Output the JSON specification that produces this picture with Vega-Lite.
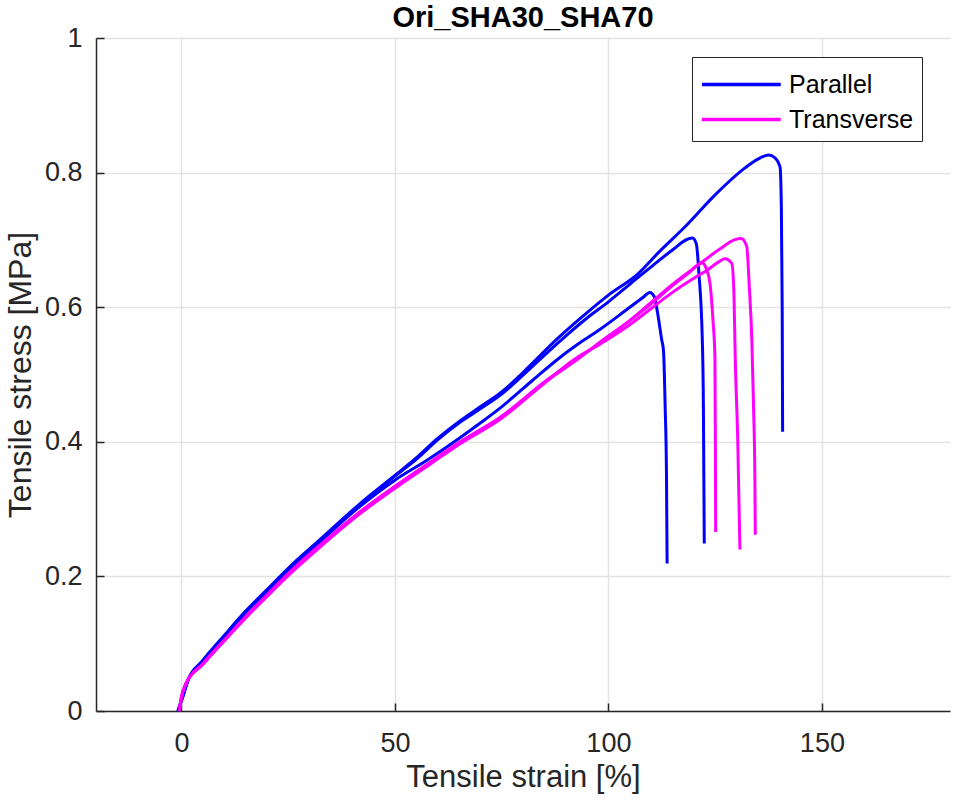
{
  "$schema": "https://vega.github.io/schema/vega-lite/v6.json",
  "description": "Tensile stress-strain curves, parallel vs transverse specimens.",
  "width": 854,
  "height": 673,
  "autosize": {"type": "none"},
  "padding": {"left": 96, "top": 38, "right": 6, "bottom": 94},
  "background": "white",
  "config": {"font": "Liberation Sans", "view": {"stroke": null}},
  "title": {"text": "Ori_SHA30_SHA70", "fontSize": 29, "fontWeight": "bold", "color": "#000000", "anchor": "middle", "frame": "group", "offset": -9},
  "data": {
    "values": [
      {"series": "Parallel", "sample": "P1", "i": 0, "strain": -0.8, "stress": 0},
      {"series": "Parallel", "sample": "P1", "i": 1, "strain": 0.5, "stress": 0.025},
      {"series": "Parallel", "sample": "P1", "i": 2, "strain": 1.5, "stress": 0.045},
      {"series": "Parallel", "sample": "P1", "i": 3, "strain": 5, "stress": 0.075},
      {"series": "Parallel", "sample": "P1", "i": 4, "strain": 10, "stress": 0.112},
      {"series": "Parallel", "sample": "P1", "i": 5, "strain": 15, "stress": 0.148},
      {"series": "Parallel", "sample": "P1", "i": 6, "strain": 20, "stress": 0.18},
      {"series": "Parallel", "sample": "P1", "i": 7, "strain": 26, "stress": 0.218},
      {"series": "Parallel", "sample": "P1", "i": 8, "strain": 32, "stress": 0.252},
      {"series": "Parallel", "sample": "P1", "i": 9, "strain": 42, "stress": 0.309},
      {"series": "Parallel", "sample": "P1", "i": 10, "strain": 50, "stress": 0.35},
      {"series": "Parallel", "sample": "P1", "i": 11, "strain": 55, "stress": 0.376},
      {"series": "Parallel", "sample": "P1", "i": 12, "strain": 60, "stress": 0.405},
      {"series": "Parallel", "sample": "P1", "i": 13, "strain": 65, "stress": 0.43},
      {"series": "Parallel", "sample": "P1", "i": 14, "strain": 70, "stress": 0.452},
      {"series": "Parallel", "sample": "P1", "i": 15, "strain": 75, "stress": 0.474},
      {"series": "Parallel", "sample": "P1", "i": 16, "strain": 80, "stress": 0.503},
      {"series": "Parallel", "sample": "P1", "i": 17, "strain": 88, "stress": 0.553},
      {"series": "Parallel", "sample": "P1", "i": 18, "strain": 95, "stress": 0.592},
      {"series": "Parallel", "sample": "P1", "i": 19, "strain": 100, "stress": 0.618},
      {"series": "Parallel", "sample": "P1", "i": 20, "strain": 107, "stress": 0.65},
      {"series": "Parallel", "sample": "P1", "i": 21, "strain": 112, "stress": 0.683},
      {"series": "Parallel", "sample": "P1", "i": 22, "strain": 118, "stress": 0.72},
      {"series": "Parallel", "sample": "P1", "i": 23, "strain": 125, "stress": 0.767},
      {"series": "Parallel", "sample": "P1", "i": 24, "strain": 132, "stress": 0.807},
      {"series": "Parallel", "sample": "P1", "i": 25, "strain": 135, "stress": 0.82},
      {"series": "Parallel", "sample": "P1", "i": 26, "strain": 137.5, "stress": 0.826},
      {"series": "Parallel", "sample": "P1", "i": 27, "strain": 139, "stress": 0.822},
      {"series": "Parallel", "sample": "P1", "i": 28, "strain": 140.2, "stress": 0.808},
      {"series": "Parallel", "sample": "P1", "i": 29, "strain": 140.5, "stress": 0.75},
      {"series": "Parallel", "sample": "P1", "i": 30, "strain": 140.7, "stress": 0.6},
      {"series": "Parallel", "sample": "P1", "i": 31, "strain": 140.8, "stress": 0.415},

      {"series": "Parallel", "sample": "P2", "i": 0, "strain": -0.8, "stress": 0},
      {"series": "Parallel", "sample": "P2", "i": 1, "strain": 0.5, "stress": 0.025},
      {"series": "Parallel", "sample": "P2", "i": 2, "strain": 1.5, "stress": 0.045},
      {"series": "Parallel", "sample": "P2", "i": 3, "strain": 5, "stress": 0.074},
      {"series": "Parallel", "sample": "P2", "i": 4, "strain": 10, "stress": 0.111},
      {"series": "Parallel", "sample": "P2", "i": 5, "strain": 15, "stress": 0.147},
      {"series": "Parallel", "sample": "P2", "i": 6, "strain": 20, "stress": 0.179},
      {"series": "Parallel", "sample": "P2", "i": 7, "strain": 26, "stress": 0.217},
      {"series": "Parallel", "sample": "P2", "i": 8, "strain": 32, "stress": 0.251},
      {"series": "Parallel", "sample": "P2", "i": 9, "strain": 42, "stress": 0.308},
      {"series": "Parallel", "sample": "P2", "i": 10, "strain": 50, "stress": 0.349},
      {"series": "Parallel", "sample": "P2", "i": 11, "strain": 55, "stress": 0.374},
      {"series": "Parallel", "sample": "P2", "i": 12, "strain": 60, "stress": 0.403},
      {"series": "Parallel", "sample": "P2", "i": 13, "strain": 65, "stress": 0.428},
      {"series": "Parallel", "sample": "P2", "i": 14, "strain": 70, "stress": 0.449},
      {"series": "Parallel", "sample": "P2", "i": 15, "strain": 75, "stress": 0.471},
      {"series": "Parallel", "sample": "P2", "i": 16, "strain": 80, "stress": 0.499},
      {"series": "Parallel", "sample": "P2", "i": 17, "strain": 88, "stress": 0.546},
      {"series": "Parallel", "sample": "P2", "i": 18, "strain": 95, "stress": 0.584},
      {"series": "Parallel", "sample": "P2", "i": 19, "strain": 100, "stress": 0.608},
      {"series": "Parallel", "sample": "P2", "i": 20, "strain": 105, "stress": 0.634},
      {"series": "Parallel", "sample": "P2", "i": 21, "strain": 110, "stress": 0.66},
      {"series": "Parallel", "sample": "P2", "i": 22, "strain": 115, "stress": 0.685},
      {"series": "Parallel", "sample": "P2", "i": 23, "strain": 118.5, "stress": 0.701},
      {"series": "Parallel", "sample": "P2", "i": 24, "strain": 119.7, "stress": 0.703},
      {"series": "Parallel", "sample": "P2", "i": 25, "strain": 120.6, "stress": 0.694},
      {"series": "Parallel", "sample": "P2", "i": 26, "strain": 121.2, "stress": 0.65},
      {"series": "Parallel", "sample": "P2", "i": 27, "strain": 122, "stress": 0.55},
      {"series": "Parallel", "sample": "P2", "i": 28, "strain": 122.25, "stress": 0.45},
      {"series": "Parallel", "sample": "P2", "i": 29, "strain": 122.35, "stress": 0.35},
      {"series": "Parallel", "sample": "P2", "i": 30, "strain": 122.45, "stress": 0.249},

      {"series": "Parallel", "sample": "P3", "i": 0, "strain": -0.8, "stress": 0},
      {"series": "Parallel", "sample": "P3", "i": 1, "strain": 0.5, "stress": 0.025},
      {"series": "Parallel", "sample": "P3", "i": 2, "strain": 1.5, "stress": 0.045},
      {"series": "Parallel", "sample": "P3", "i": 3, "strain": 5, "stress": 0.074},
      {"series": "Parallel", "sample": "P3", "i": 4, "strain": 10, "stress": 0.11},
      {"series": "Parallel", "sample": "P3", "i": 5, "strain": 15, "stress": 0.146},
      {"series": "Parallel", "sample": "P3", "i": 6, "strain": 20, "stress": 0.177},
      {"series": "Parallel", "sample": "P3", "i": 7, "strain": 26, "stress": 0.215},
      {"series": "Parallel", "sample": "P3", "i": 8, "strain": 32, "stress": 0.249},
      {"series": "Parallel", "sample": "P3", "i": 9, "strain": 42, "stress": 0.305},
      {"series": "Parallel", "sample": "P3", "i": 10, "strain": 50, "stress": 0.343},
      {"series": "Parallel", "sample": "P3", "i": 11, "strain": 57.6, "stress": 0.373},
      {"series": "Parallel", "sample": "P3", "i": 12, "strain": 65, "stress": 0.405},
      {"series": "Parallel", "sample": "P3", "i": 13, "strain": 70, "stress": 0.428},
      {"series": "Parallel", "sample": "P3", "i": 14, "strain": 75, "stress": 0.452},
      {"series": "Parallel", "sample": "P3", "i": 15, "strain": 82, "stress": 0.49},
      {"series": "Parallel", "sample": "P3", "i": 16, "strain": 88.8, "stress": 0.526},
      {"series": "Parallel", "sample": "P3", "i": 17, "strain": 94, "stress": 0.55},
      {"series": "Parallel", "sample": "P3", "i": 18, "strain": 98, "stress": 0.567},
      {"series": "Parallel", "sample": "P3", "i": 19, "strain": 104, "stress": 0.595},
      {"series": "Parallel", "sample": "P3", "i": 20, "strain": 108, "stress": 0.614},
      {"series": "Parallel", "sample": "P3", "i": 21, "strain": 109.7, "stress": 0.622},
      {"series": "Parallel", "sample": "P3", "i": 22, "strain": 110.8, "stress": 0.615},
      {"series": "Parallel", "sample": "P3", "i": 23, "strain": 111.4, "stress": 0.596},
      {"series": "Parallel", "sample": "P3", "i": 24, "strain": 112.5, "stress": 0.551},
      {"series": "Parallel", "sample": "P3", "i": 25, "strain": 112.9, "stress": 0.536},
      {"series": "Parallel", "sample": "P3", "i": 26, "strain": 113.3, "stress": 0.45},
      {"series": "Parallel", "sample": "P3", "i": 27, "strain": 113.6, "stress": 0.353},
      {"series": "Parallel", "sample": "P3", "i": 28, "strain": 113.75, "stress": 0.219},

      {"series": "Transverse", "sample": "T1", "i": 0, "strain": -0.5, "stress": 0},
      {"series": "Transverse", "sample": "T1", "i": 1, "strain": 0, "stress": 0.02},
      {"series": "Transverse", "sample": "T1", "i": 2, "strain": 1, "stress": 0.04},
      {"series": "Transverse", "sample": "T1", "i": 3, "strain": 5, "stress": 0.07},
      {"series": "Transverse", "sample": "T1", "i": 4, "strain": 10, "stress": 0.105},
      {"series": "Transverse", "sample": "T1", "i": 5, "strain": 15, "stress": 0.139},
      {"series": "Transverse", "sample": "T1", "i": 6, "strain": 20, "stress": 0.171},
      {"series": "Transverse", "sample": "T1", "i": 7, "strain": 26, "stress": 0.209},
      {"series": "Transverse", "sample": "T1", "i": 8, "strain": 32, "stress": 0.243},
      {"series": "Transverse", "sample": "T1", "i": 9, "strain": 42, "stress": 0.296},
      {"series": "Transverse", "sample": "T1", "i": 10, "strain": 50, "stress": 0.333},
      {"series": "Transverse", "sample": "T1", "i": 11, "strain": 59, "stress": 0.372},
      {"series": "Transverse", "sample": "T1", "i": 12, "strain": 65, "stress": 0.398},
      {"series": "Transverse", "sample": "T1", "i": 13, "strain": 75, "stress": 0.437},
      {"series": "Transverse", "sample": "T1", "i": 14, "strain": 85, "stress": 0.488},
      {"series": "Transverse", "sample": "T1", "i": 15, "strain": 93.5, "stress": 0.526},
      {"series": "Transverse", "sample": "T1", "i": 16, "strain": 98, "stress": 0.548},
      {"series": "Transverse", "sample": "T1", "i": 17, "strain": 105, "stress": 0.58},
      {"series": "Transverse", "sample": "T1", "i": 18, "strain": 110, "stress": 0.607},
      {"series": "Transverse", "sample": "T1", "i": 19, "strain": 115, "stress": 0.634},
      {"series": "Transverse", "sample": "T1", "i": 20, "strain": 121.5, "stress": 0.665},
      {"series": "Transverse", "sample": "T1", "i": 21, "strain": 126, "stress": 0.686},
      {"series": "Transverse", "sample": "T1", "i": 22, "strain": 129.5, "stress": 0.7},
      {"series": "Transverse", "sample": "T1", "i": 23, "strain": 131.1, "stress": 0.702},
      {"series": "Transverse", "sample": "T1", "i": 24, "strain": 132.4, "stress": 0.69},
      {"series": "Transverse", "sample": "T1", "i": 25, "strain": 133, "stress": 0.63},
      {"series": "Transverse", "sample": "T1", "i": 26, "strain": 133.6, "stress": 0.55},
      {"series": "Transverse", "sample": "T1", "i": 27, "strain": 134, "stress": 0.45},
      {"series": "Transverse", "sample": "T1", "i": 28, "strain": 134.3, "stress": 0.35},
      {"series": "Transverse", "sample": "T1", "i": 29, "strain": 134.4, "stress": 0.262},

      {"series": "Transverse", "sample": "T2", "i": 0, "strain": -0.5, "stress": 0},
      {"series": "Transverse", "sample": "T2", "i": 1, "strain": 0, "stress": 0.02},
      {"series": "Transverse", "sample": "T2", "i": 2, "strain": 1, "stress": 0.04},
      {"series": "Transverse", "sample": "T2", "i": 3, "strain": 5, "stress": 0.069},
      {"series": "Transverse", "sample": "T2", "i": 4, "strain": 10, "stress": 0.104},
      {"series": "Transverse", "sample": "T2", "i": 5, "strain": 15, "stress": 0.138},
      {"series": "Transverse", "sample": "T2", "i": 6, "strain": 20, "stress": 0.17},
      {"series": "Transverse", "sample": "T2", "i": 7, "strain": 26, "stress": 0.207},
      {"series": "Transverse", "sample": "T2", "i": 8, "strain": 32, "stress": 0.241},
      {"series": "Transverse", "sample": "T2", "i": 9, "strain": 42, "stress": 0.294},
      {"series": "Transverse", "sample": "T2", "i": 10, "strain": 50, "stress": 0.331},
      {"series": "Transverse", "sample": "T2", "i": 11, "strain": 59, "stress": 0.37},
      {"series": "Transverse", "sample": "T2", "i": 12, "strain": 65, "stress": 0.396},
      {"series": "Transverse", "sample": "T2", "i": 13, "strain": 75, "stress": 0.435},
      {"series": "Transverse", "sample": "T2", "i": 14, "strain": 85, "stress": 0.487},
      {"series": "Transverse", "sample": "T2", "i": 15, "strain": 91.9, "stress": 0.522},
      {"series": "Transverse", "sample": "T2", "i": 16, "strain": 98, "stress": 0.545},
      {"series": "Transverse", "sample": "T2", "i": 17, "strain": 105, "stress": 0.574},
      {"series": "Transverse", "sample": "T2", "i": 18, "strain": 110, "stress": 0.598},
      {"series": "Transverse", "sample": "T2", "i": 19, "strain": 115, "stress": 0.622},
      {"series": "Transverse", "sample": "T2", "i": 20, "strain": 120, "stress": 0.643},
      {"series": "Transverse", "sample": "T2", "i": 21, "strain": 123.1, "stress": 0.655},
      {"series": "Transverse", "sample": "T2", "i": 22, "strain": 126, "stress": 0.668},
      {"series": "Transverse", "sample": "T2", "i": 23, "strain": 127.3, "stress": 0.672},
      {"series": "Transverse", "sample": "T2", "i": 24, "strain": 128.9, "stress": 0.665},
      {"series": "Transverse", "sample": "T2", "i": 25, "strain": 129.4, "stress": 0.62},
      {"series": "Transverse", "sample": "T2", "i": 26, "strain": 129.7, "stress": 0.526},
      {"series": "Transverse", "sample": "T2", "i": 27, "strain": 130.3, "stress": 0.4},
      {"series": "Transverse", "sample": "T2", "i": 28, "strain": 130.8, "stress": 0.24},

      {"series": "Transverse", "sample": "T3", "i": 0, "strain": -0.5, "stress": 0},
      {"series": "Transverse", "sample": "T3", "i": 1, "strain": 0, "stress": 0.02},
      {"series": "Transverse", "sample": "T3", "i": 2, "strain": 1, "stress": 0.04},
      {"series": "Transverse", "sample": "T3", "i": 3, "strain": 5, "stress": 0.07},
      {"series": "Transverse", "sample": "T3", "i": 4, "strain": 10, "stress": 0.105},
      {"series": "Transverse", "sample": "T3", "i": 5, "strain": 15, "stress": 0.14},
      {"series": "Transverse", "sample": "T3", "i": 6, "strain": 20, "stress": 0.172},
      {"series": "Transverse", "sample": "T3", "i": 7, "strain": 26, "stress": 0.21},
      {"series": "Transverse", "sample": "T3", "i": 8, "strain": 32, "stress": 0.244},
      {"series": "Transverse", "sample": "T3", "i": 9, "strain": 42, "stress": 0.297},
      {"series": "Transverse", "sample": "T3", "i": 10, "strain": 50, "stress": 0.334},
      {"series": "Transverse", "sample": "T3", "i": 11, "strain": 59, "stress": 0.373},
      {"series": "Transverse", "sample": "T3", "i": 12, "strain": 65, "stress": 0.399},
      {"series": "Transverse", "sample": "T3", "i": 13, "strain": 75, "stress": 0.438},
      {"series": "Transverse", "sample": "T3", "i": 14, "strain": 85, "stress": 0.489},
      {"series": "Transverse", "sample": "T3", "i": 15, "strain": 93, "stress": 0.525},
      {"series": "Transverse", "sample": "T3", "i": 16, "strain": 98, "stress": 0.547},
      {"series": "Transverse", "sample": "T3", "i": 17, "strain": 105, "stress": 0.58},
      {"series": "Transverse", "sample": "T3", "i": 18, "strain": 110, "stress": 0.605},
      {"series": "Transverse", "sample": "T3", "i": 19, "strain": 115, "stress": 0.632},
      {"series": "Transverse", "sample": "T3", "i": 20, "strain": 119, "stress": 0.652},
      {"series": "Transverse", "sample": "T3", "i": 21, "strain": 121.9, "stress": 0.666},
      {"series": "Transverse", "sample": "T3", "i": 22, "strain": 123, "stress": 0.656},
      {"series": "Transverse", "sample": "T3", "i": 23, "strain": 123.8, "stress": 0.635},
      {"series": "Transverse", "sample": "T3", "i": 24, "strain": 124.5, "stress": 0.58},
      {"series": "Transverse", "sample": "T3", "i": 25, "strain": 124.95, "stress": 0.526},
      {"series": "Transverse", "sample": "T3", "i": 26, "strain": 125.05, "stress": 0.4},
      {"series": "Transverse", "sample": "T3", "i": 27, "strain": 125.12, "stress": 0.266}
    ]
  },
  "mark": {"type": "line", "strokeWidth": 3, "strokeJoin": "round", "strokeCap": "butt", "interpolate": "monotone"},
  "encoding": {
    "x": {
      "field": "strain",
      "type": "quantitative",
      "scale": {"domain": [-20, 180], "nice": false, "zero": false},
      "axis": {
        "title": "Tensile strain [%]",
        "values": [0, 50, 100, 150],
        "grid": true,
        "gridColor": "#e3e3e3",
        "gridWidth": 1.5,
        "domainColor": "#262626",
        "domainWidth": 1.5,
        "tickColor": "#262626",
        "tickWidth": 1.5,
        "tickSize": -8,
        "labelFontSize": 27,
        "labelColor": "#262626",
        "labelPadding": 27,
        "titleFontSize": 31,
        "titleFontWeight": "normal",
        "titleColor": "#262626",
        "titlePadding": 6
      }
    },
    "y": {
      "field": "stress",
      "type": "quantitative",
      "scale": {"domain": [0, 1], "nice": false},
      "axis": {
        "title": "Tensile stress [MPa]",
        "values": [0, 0.2, 0.4, 0.6, 0.8, 1],
        "format": "~g",
        "grid": true,
        "gridColor": "#e3e3e3",
        "gridWidth": 1.5,
        "domainColor": "#262626",
        "domainWidth": 1.5,
        "tickColor": "#262626",
        "tickWidth": 1.5,
        "tickSize": -8,
        "labelFontSize": 27,
        "labelColor": "#262626",
        "labelPadding": 22,
        "titleFontSize": 32,
        "titleFontWeight": "normal",
        "titleColor": "#262626",
        "titlePadding": 7
      }
    },
    "color": {
      "field": "series",
      "type": "nominal",
      "scale": {"domain": ["Parallel", "Transverse"], "range": ["#0000ff", "#ff00ff"]},
      "legend": {
        "title": null,
        "orient": "none",
        "legendX": 596,
        "legendY": 19,
        "strokeColor": "#262626",
        "fillColor": "white",
        "padding": 8,
        "cornerRadius": 0,
        "symbolType": "M-1,0H3.5",
        "symbolSize": 1225,
        "symbolStrokeWidth": 3.5,
        "labelFontSize": 25,
        "labelColor": "#000000",
        "labelOffset": 50,
        "rowPadding": 2
      }
    },
    "detail": {"field": "sample"},
    "order": {"field": "i", "type": "quantitative"}
  }
}
